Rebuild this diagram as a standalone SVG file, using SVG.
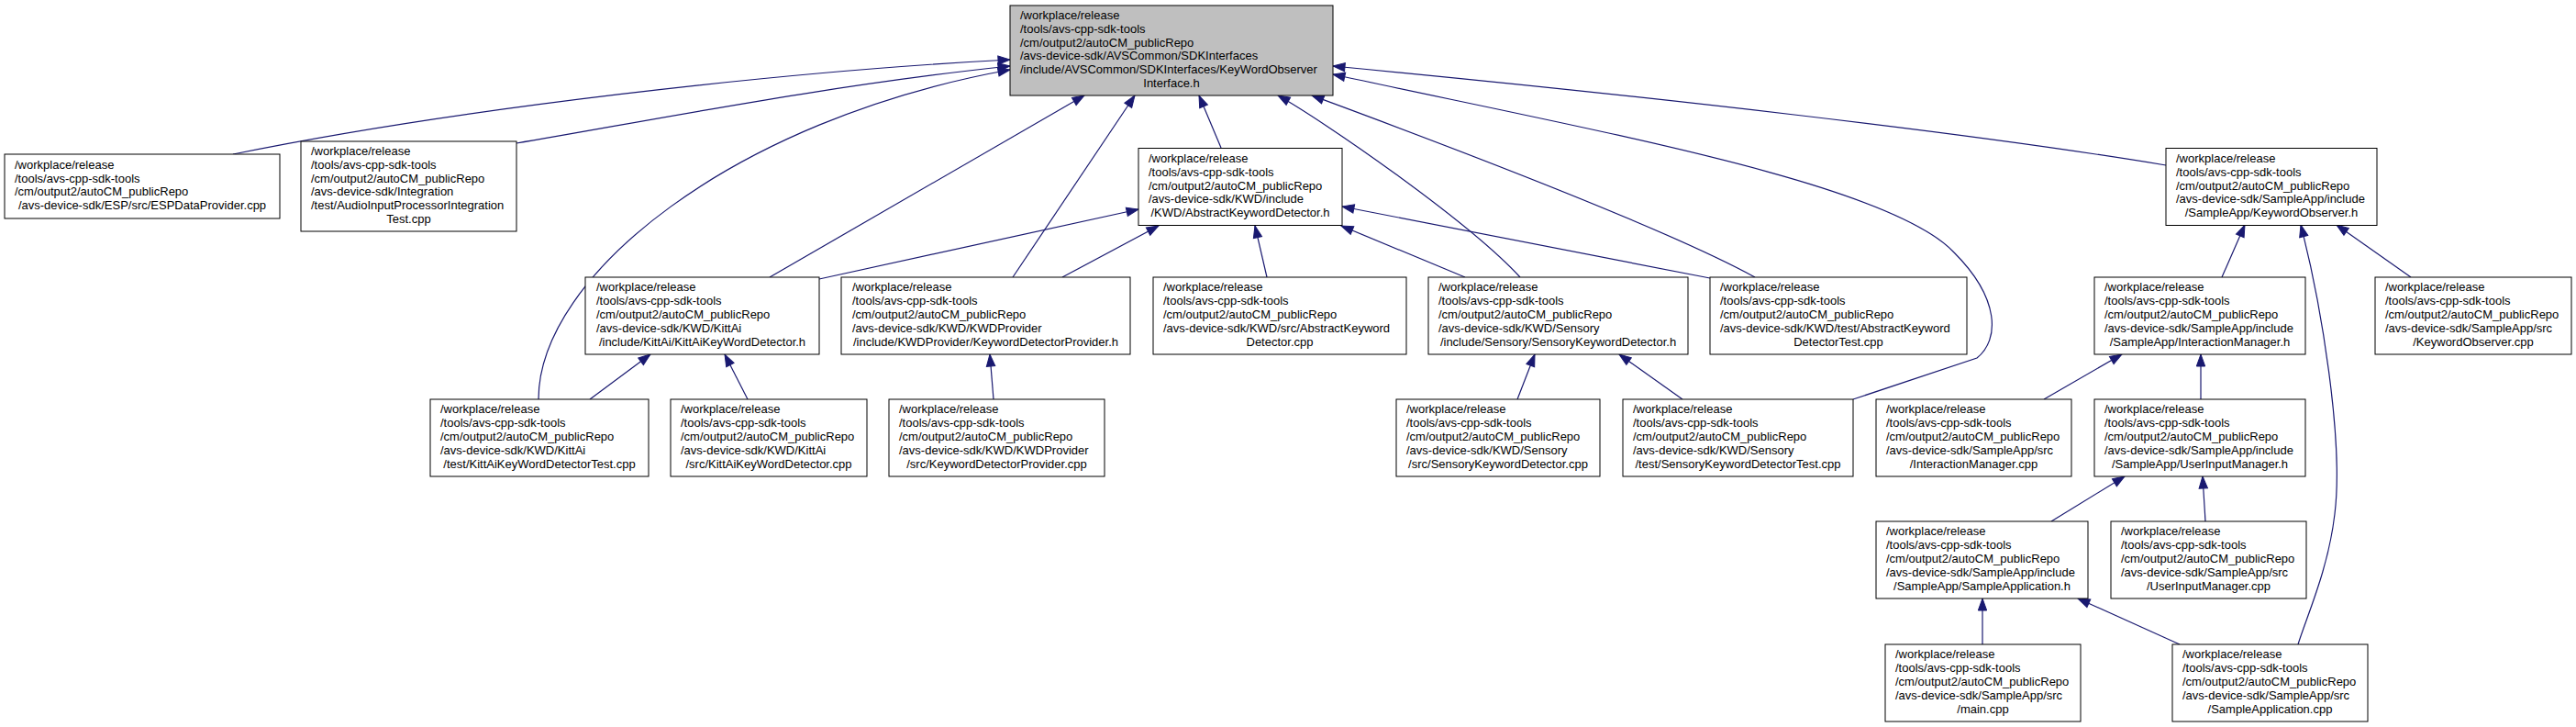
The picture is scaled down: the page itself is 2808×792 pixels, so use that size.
<svg xmlns="http://www.w3.org/2000/svg" width="2808" height="792" viewBox="0 0 2808 792">
<defs>
<style>
.node rect{fill:#ffffff;stroke:#000000;stroke-width:1}
.node.root rect{fill:#bfbfbf}
.node text{font-family:"Liberation Sans",Arial,Helvetica,sans-serif;font-size:13px;fill:#000000}
.c{text-anchor:middle}
#edges path{fill:none;stroke:#191970;stroke-width:1.2;marker-start:url(#ah)}
</style>
<marker id="ah" markerWidth="13" markerHeight="10" refX="13" refY="4.7" orient="auto-start-reverse" markerUnits="userSpaceOnUse" overflow="visible">
<path d="M0,0 L13,4.7 L0,9.4 z" fill="#191970" stroke="#191970" stroke-width="1"/>
</marker>
</defs>
<rect width="2808" height="792" fill="#ffffff"/>

<g id="edges">
<path d="M1101,65 C850,78 500,118 254,168"/>
<path d="M1101,72 C900,93 700,133 563,156"/>
<path d="M1101,76 C800,130 587,300 587,435"/>
<path d="M1182,104 L839,302"/>
<path d="M1237,104 L1104,302"/>
<path d="M1307,104 L1331,161"/>
<path d="M1393,104 C1440,130 1600,240 1657,302"/>
<path d="M1430,104 C1500,130 1800,240 1913,302"/>
<path d="M1453,72 C1800,105 2150,145 2361,180"/>
<path d="M1453,81 C1750,145 2060,200 2130,275 C2180,325 2180,370 2155,390 L2020,435"/>
<path d="M1241,228 L893,304"/>
<path d="M1263,246 L1158,302"/>
<path d="M1368,246 L1381,302"/>
<path d="M1462,246 L1597,302"/>
<path d="M1463,225 L1864,303"/>
<path d="M709,386 L643,435"/>
<path d="M790,386 L815,435"/>
<path d="M1079,386 L1083,435"/>
<path d="M1673,386 L1654,435"/>
<path d="M1765,386 L1834,435"/>
<path d="M2447,245 L2422,302"/>
<path d="M2508,245 C2530,330 2555,480 2545,560 C2538,620 2515,670 2505,702"/>
<path d="M2547,245 L2628,302"/>
<path d="M2313,386 L2228,435"/>
<path d="M2399,386 L2399,435"/>
<path d="M2316,519 L2236,568"/>
<path d="M2401,519 L2404,568"/>
<path d="M2161,652 L2161,702"/>
<path d="M2265,652 L2376,702"/>
</g>

<g id="node0" class="node root">
<rect x="1101" y="6" width="352" height="98"/>
<text><tspan x="1112" y="21">/workplace/release</tspan><tspan x="1112" y="35.8">/tools/avs-cpp-sdk-tools</tspan><tspan x="1112" y="50.6">/cm/output2/autoCM_publicRepo</tspan><tspan x="1112" y="65.4">/avs-device-sdk/AVSCommon/SDKInterfaces</tspan><tspan x="1112" y="80.2">/include/AVSCommon/SDKInterfaces/KeyWordObserver</tspan><tspan class="c" x="1277" y="95">Interface.h</tspan></text>
</g>

<g id="node1" class="node">
<rect x="5" y="168" width="300" height="70"/>
<text><tspan x="16" y="183.8">/workplace/release</tspan><tspan x="16" y="198.6">/tools/avs-cpp-sdk-tools</tspan><tspan x="16" y="213.4">/cm/output2/autoCM_publicRepo</tspan><tspan class="c" x="155" y="228.2">/avs-device-sdk/ESP/src/ESPDataProvider.cpp</tspan></text>
</g>

<g id="node2" class="node">
<rect x="328" y="154" width="235" height="98"/>
<text><tspan x="339" y="169">/workplace/release</tspan><tspan x="339" y="183.8">/tools/avs-cpp-sdk-tools</tspan><tspan x="339" y="198.6">/cm/output2/autoCM_publicRepo</tspan><tspan x="339" y="213.4">/avs-device-sdk/Integration</tspan><tspan x="339" y="228.2">/test/AudioInputProcessorIntegration</tspan><tspan class="c" x="445.5" y="243">Test.cpp</tspan></text>
</g>

<g id="node3" class="node">
<rect x="1241" y="161.5" width="222" height="84"/>
<text><tspan x="1252" y="176.9">/workplace/release</tspan><tspan x="1252" y="191.7">/tools/avs-cpp-sdk-tools</tspan><tspan x="1252" y="206.5">/cm/output2/autoCM_publicRepo</tspan><tspan x="1252" y="221.3">/avs-device-sdk/KWD/include</tspan><tspan class="c" x="1352" y="236.1">/KWD/AbstractKeywordDetector.h</tspan></text>
</g>

<g id="node4" class="node">
<rect x="2361" y="161.5" width="230" height="84"/>
<text><tspan x="2372" y="176.9">/workplace/release</tspan><tspan x="2372" y="191.7">/tools/avs-cpp-sdk-tools</tspan><tspan x="2372" y="206.5">/cm/output2/autoCM_publicRepo</tspan><tspan x="2372" y="221.3">/avs-device-sdk/SampleApp/include</tspan><tspan class="c" x="2476" y="236.1">/SampleApp/KeywordObserver.h</tspan></text>
</g>

<g id="node5" class="node">
<rect x="638" y="302" width="255" height="84"/>
<text><tspan x="650" y="317.4">/workplace/release</tspan><tspan x="650" y="332.2">/tools/avs-cpp-sdk-tools</tspan><tspan x="650" y="347">/cm/output2/autoCM_publicRepo</tspan><tspan x="650" y="361.8">/avs-device-sdk/KWD/KittAi</tspan><tspan class="c" x="765.5" y="376.6">/include/KittAi/KittAiKeyWordDetector.h</tspan></text>
</g>

<g id="node6" class="node">
<rect x="917" y="302" width="315" height="84"/>
<text><tspan x="929" y="317.4">/workplace/release</tspan><tspan x="929" y="332.2">/tools/avs-cpp-sdk-tools</tspan><tspan x="929" y="347">/cm/output2/autoCM_publicRepo</tspan><tspan x="929" y="361.8">/avs-device-sdk/KWD/KWDProvider</tspan><tspan class="c" x="1074.5" y="376.6">/include/KWDProvider/KeywordDetectorProvider.h</tspan></text>
</g>

<g id="node7" class="node">
<rect x="1257" y="302" width="276" height="84"/>
<text><tspan x="1268" y="317.4">/workplace/release</tspan><tspan x="1268" y="332.2">/tools/avs-cpp-sdk-tools</tspan><tspan x="1268" y="347">/cm/output2/autoCM_publicRepo</tspan><tspan x="1268" y="361.8">/avs-device-sdk/KWD/src/AbstractKeyword</tspan><tspan class="c" x="1395" y="376.6">Detector.cpp</tspan></text>
</g>

<g id="node8" class="node">
<rect x="1557" y="302" width="283" height="84"/>
<text><tspan x="1568" y="317.4">/workplace/release</tspan><tspan x="1568" y="332.2">/tools/avs-cpp-sdk-tools</tspan><tspan x="1568" y="347">/cm/output2/autoCM_publicRepo</tspan><tspan x="1568" y="361.8">/avs-device-sdk/KWD/Sensory</tspan><tspan class="c" x="1698.5" y="376.6">/include/Sensory/SensoryKeywordDetector.h</tspan></text>
</g>

<g id="node9" class="node">
<rect x="1864" y="302" width="280" height="84"/>
<text><tspan x="1875" y="317.4">/workplace/release</tspan><tspan x="1875" y="332.2">/tools/avs-cpp-sdk-tools</tspan><tspan x="1875" y="347">/cm/output2/autoCM_publicRepo</tspan><tspan x="1875" y="361.8">/avs-device-sdk/KWD/test/AbstractKeyword</tspan><tspan class="c" x="2004" y="376.6">DetectorTest.cpp</tspan></text>
</g>

<g id="node10" class="node">
<rect x="2283" y="302" width="230" height="84"/>
<text><tspan x="2294" y="317.4">/workplace/release</tspan><tspan x="2294" y="332.2">/tools/avs-cpp-sdk-tools</tspan><tspan x="2294" y="347">/cm/output2/autoCM_publicRepo</tspan><tspan x="2294" y="361.8">/avs-device-sdk/SampleApp/include</tspan><tspan class="c" x="2398" y="376.6">/SampleApp/InteractionManager.h</tspan></text>
</g>

<g id="node11" class="node">
<rect x="2589" y="302" width="214" height="84"/>
<text><tspan x="2600" y="317.4">/workplace/release</tspan><tspan x="2600" y="332.2">/tools/avs-cpp-sdk-tools</tspan><tspan x="2600" y="347">/cm/output2/autoCM_publicRepo</tspan><tspan x="2600" y="361.8">/avs-device-sdk/SampleApp/src</tspan><tspan class="c" x="2696" y="376.6">/KeywordObserver.cpp</tspan></text>
</g>

<g id="node12" class="node">
<rect x="469" y="435" width="238" height="84"/>
<text><tspan x="480" y="450.4">/workplace/release</tspan><tspan x="480" y="465.2">/tools/avs-cpp-sdk-tools</tspan><tspan x="480" y="480">/cm/output2/autoCM_publicRepo</tspan><tspan x="480" y="494.8">/avs-device-sdk/KWD/KittAi</tspan><tspan class="c" x="588" y="509.6">/test/KittAiKeyWordDetectorTest.cpp</tspan></text>
</g>

<g id="node13" class="node">
<rect x="731" y="435" width="214" height="84"/>
<text><tspan x="742" y="450.4">/workplace/release</tspan><tspan x="742" y="465.2">/tools/avs-cpp-sdk-tools</tspan><tspan x="742" y="480">/cm/output2/autoCM_publicRepo</tspan><tspan x="742" y="494.8">/avs-device-sdk/KWD/KittAi</tspan><tspan class="c" x="838" y="509.6">/src/KittAiKeyWordDetector.cpp</tspan></text>
</g>

<g id="node14" class="node">
<rect x="969" y="435" width="235" height="84"/>
<text><tspan x="980" y="450.4">/workplace/release</tspan><tspan x="980" y="465.2">/tools/avs-cpp-sdk-tools</tspan><tspan x="980" y="480">/cm/output2/autoCM_publicRepo</tspan><tspan x="980" y="494.8">/avs-device-sdk/KWD/KWDProvider</tspan><tspan class="c" x="1086.5" y="509.6">/src/KeywordDetectorProvider.cpp</tspan></text>
</g>

<g id="node15" class="node">
<rect x="1522" y="435" width="222" height="84"/>
<text><tspan x="1533" y="450.4">/workplace/release</tspan><tspan x="1533" y="465.2">/tools/avs-cpp-sdk-tools</tspan><tspan x="1533" y="480">/cm/output2/autoCM_publicRepo</tspan><tspan x="1533" y="494.8">/avs-device-sdk/KWD/Sensory</tspan><tspan class="c" x="1633" y="509.6">/src/SensoryKeywordDetector.cpp</tspan></text>
</g>

<g id="node16" class="node">
<rect x="1769" y="435" width="251" height="84"/>
<text><tspan x="1780" y="450.4">/workplace/release</tspan><tspan x="1780" y="465.2">/tools/avs-cpp-sdk-tools</tspan><tspan x="1780" y="480">/cm/output2/autoCM_publicRepo</tspan><tspan x="1780" y="494.8">/avs-device-sdk/KWD/Sensory</tspan><tspan class="c" x="1894.5" y="509.6">/test/SensoryKeywordDetectorTest.cpp</tspan></text>
</g>

<g id="node17" class="node">
<rect x="2045" y="435" width="213" height="84"/>
<text><tspan x="2056" y="450.4">/workplace/release</tspan><tspan x="2056" y="465.2">/tools/avs-cpp-sdk-tools</tspan><tspan x="2056" y="480">/cm/output2/autoCM_publicRepo</tspan><tspan x="2056" y="494.8">/avs-device-sdk/SampleApp/src</tspan><tspan class="c" x="2151.5" y="509.6">/InteractionManager.cpp</tspan></text>
</g>

<g id="node18" class="node">
<rect x="2283" y="435" width="230" height="84"/>
<text><tspan x="2294" y="450.4">/workplace/release</tspan><tspan x="2294" y="465.2">/tools/avs-cpp-sdk-tools</tspan><tspan x="2294" y="480">/cm/output2/autoCM_publicRepo</tspan><tspan x="2294" y="494.8">/avs-device-sdk/SampleApp/include</tspan><tspan class="c" x="2398" y="509.6">/SampleApp/UserInputManager.h</tspan></text>
</g>

<g id="node19" class="node">
<rect x="2045" y="568" width="231" height="84"/>
<text><tspan x="2056" y="583.4">/workplace/release</tspan><tspan x="2056" y="598.2">/tools/avs-cpp-sdk-tools</tspan><tspan x="2056" y="613">/cm/output2/autoCM_publicRepo</tspan><tspan x="2056" y="627.8">/avs-device-sdk/SampleApp/include</tspan><tspan class="c" x="2160.5" y="642.6">/SampleApp/SampleApplication.h</tspan></text>
</g>

<g id="node20" class="node">
<rect x="2301" y="568" width="213" height="84"/>
<text><tspan x="2312" y="583.4">/workplace/release</tspan><tspan x="2312" y="598.2">/tools/avs-cpp-sdk-tools</tspan><tspan x="2312" y="613">/cm/output2/autoCM_publicRepo</tspan><tspan x="2312" y="627.8">/avs-device-sdk/SampleApp/src</tspan><tspan class="c" x="2407.5" y="642.6">/UserInputManager.cpp</tspan></text>
</g>

<g id="node21" class="node">
<rect x="2055" y="702" width="213" height="84"/>
<text><tspan x="2066" y="717.4">/workplace/release</tspan><tspan x="2066" y="732.2">/tools/avs-cpp-sdk-tools</tspan><tspan x="2066" y="747">/cm/output2/autoCM_publicRepo</tspan><tspan x="2066" y="761.8">/avs-device-sdk/SampleApp/src</tspan><tspan class="c" x="2161.5" y="776.6">/main.cpp</tspan></text>
</g>

<g id="node22" class="node">
<rect x="2368" y="702" width="213" height="84"/>
<text><tspan x="2379" y="717.4">/workplace/release</tspan><tspan x="2379" y="732.2">/tools/avs-cpp-sdk-tools</tspan><tspan x="2379" y="747">/cm/output2/autoCM_publicRepo</tspan><tspan x="2379" y="761.8">/avs-device-sdk/SampleApp/src</tspan><tspan class="c" x="2474.5" y="776.6">/SampleApplication.cpp</tspan></text>
</g>
</svg>
